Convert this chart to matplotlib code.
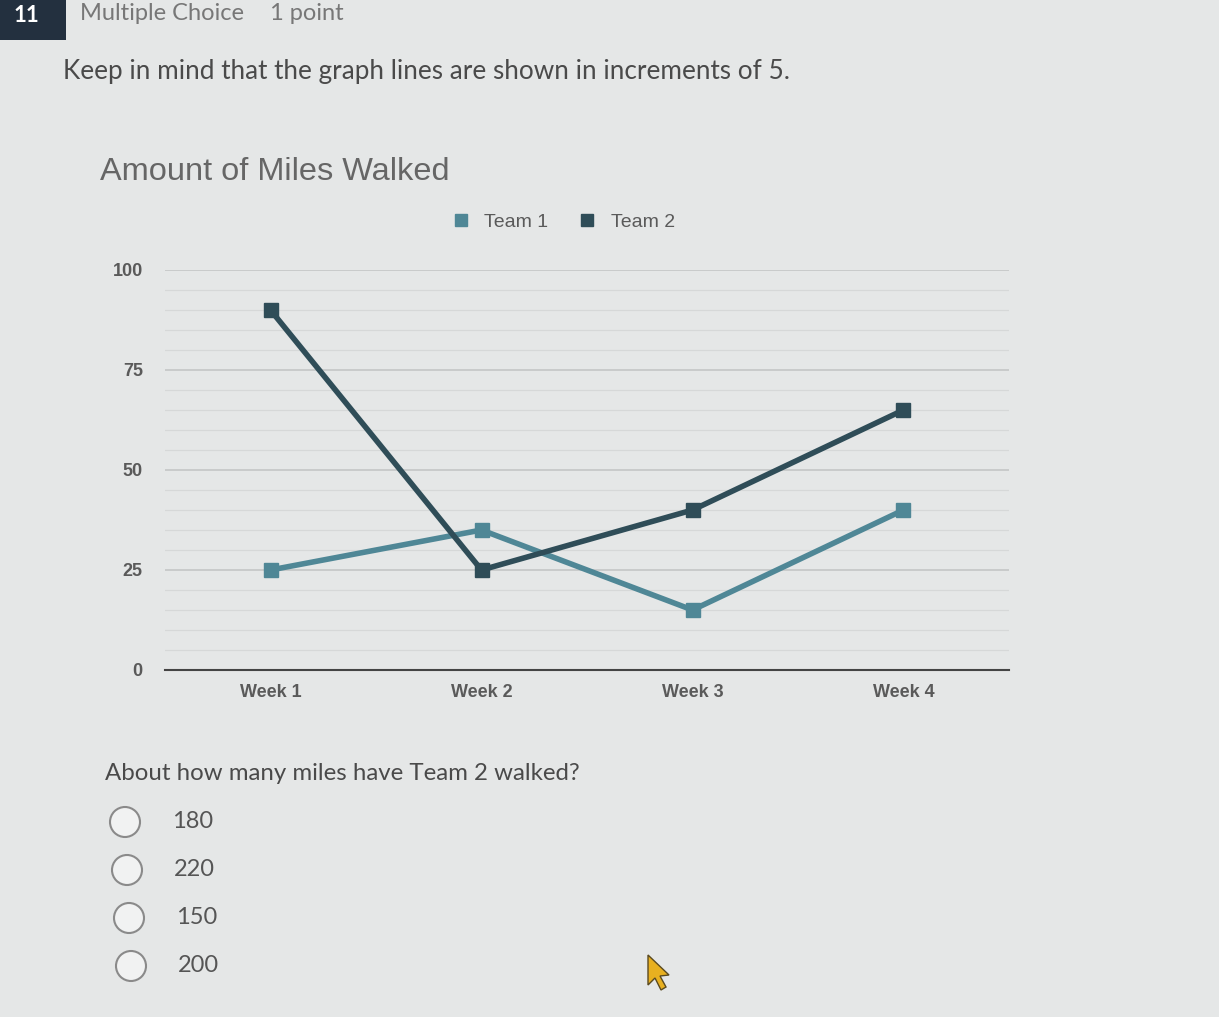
import matplotlib
matplotlib.use("Agg")
import matplotlib.pyplot as plt
from matplotlib.patches import Rectangle, Ellipse, Polygon

# data
weeks = ["Week 1", "Week 2", "Week 3", "Week 4"]
team1 = [25, 35, 15, 40]
team2 = [90, 25, 40, 65]
series_names = ["Team 1", "Team 2"]
major_ticks = [0, 25, 50, 75, 100]
minor_ticks = [v for v in range(0, 101, 5) if v % 25]
choices = ["180", "220", "150", "200"]

W, H = 1219, 1017
BG = "#e5e7e7"
C1 = "#4f8796"
C2 = "#2f4d58"
QUIZ_INK = "#4a4a4a"
CHART_INK = "#5a5a5a"


def fx(px):
    return px / W


def fy(py):
    return 1 - py / H


fig = plt.figure(figsize=(W / 100, H / 100), dpi=100)
fig.patch.set_facecolor(BG)

# quiz header
fig.patches.append(Rectangle((0, fy(40)), fx(66), 40 / H, transform=fig.transFigure,
                             facecolor="#23303f", edgecolor="none"))
fig.text(fx(26), fy(15), "11", color="white", fontsize=16, fontweight="bold",
         family="Lato", ha="center", va="center")
fig.text(fx(80), fy(14), "Multiple Choice", color="#777", fontsize=17, family="Lato",
         va="center")
fig.text(fx(270), fy(14), "1 point", color="#777", fontsize=17, family="Lato", va="center")
fig.text(fx(63), fy(71), "Keep in mind that the graph lines are shown in increments of 5.",
         color=QUIZ_INK, fontsize=18.8, family="Lato", va="center")

# chart
ax = fig.add_axes([fx(165), fy(670), 844 / W, 400 / H])
ax.set_facecolor(BG)
x = list(range(len(weeks)))
ax.plot(x, team1, color=C1, linewidth=4, marker="s", markersize=10, label=series_names[0],
        solid_joinstyle="miter")
ax.plot(x, team2, color=C2, linewidth=4, marker="s", markersize=10, label=series_names[1],
        solid_joinstyle="miter")
ax.set_xlim(-0.5, len(weeks) - 0.5)
ax.set_ylim(0, 100)
ax.set_yticks(major_ticks)
ax.set_yticks(minor_ticks, minor=True)
ax.grid(axis="y", which="major", color="#c4c6c6", linewidth=1.2)
ax.grid(axis="y", which="minor", color="#d6d8d8", linewidth=0.9)
ax.set_axisbelow(True)
ax.set_xticks(x, weeks)
for side in ("top", "right", "left"):
    ax.spines[side].set_visible(False)
ax.spines["bottom"].set_color("#444")
ax.spines["bottom"].set_linewidth(1.5)
ax.tick_params(axis="both", which="both", length=0)
ax.tick_params(axis="y", pad=16)
ax.tick_params(axis="x", pad=10)
for lab in ax.get_xticklabels() + ax.get_yticklabels():
    lab.set_family("Liberation Sans")
    lab.set_fontsize(13)
    lab.set_fontweight("bold")
    lab.set_color(CHART_INK)

fig.text(fx(100), fy(172), "Amount of Miles Walked", color="#666", fontsize=23.4,
         family="Liberation Sans", va="center")
leg = ax.legend(loc="center", bbox_to_anchor=(fx(564), fy(222)),
                bbox_transform=fig.transFigure, ncol=2, frameon=False,
                handlelength=0.8, handletextpad=0.8, columnspacing=1.6,
                prop={"family": "Liberation Sans", "size": 14})
for h in leg.legend_handles:
    h.set_linestyle("none")
    h.set_markersize(9)
for t in leg.get_texts():
    t.set_color(CHART_INK)

# question
fig.text(fx(105), fy(773), "About how many miles have Team 2 walked?", color=QUIZ_INK,
         fontsize=17.3, family="Lato", va="center")
for i, c in enumerate(choices):
    cy = 822 + 48 * i
    cx = 125 + 2 * i
    fig.patches.append(Ellipse((fx(cx), fy(cy)), 30 / W, 30 / H, transform=fig.transFigure,
                               facecolor="#f1f2f2", edgecolor="#8a8a8a", linewidth=1.5))
    fig.text(fx(172 + 2 * i), fy(cy), c, color="#555", fontsize=17, family="Lato",
             va="center")

# mouse pointer
pts = [(648, 955), (648, 985), (655, 978), (661, 990), (666, 987), (660, 976), (669, 975)]
fig.patches.append(Polygon([(fx(a), fy(b)) for a, b in pts], closed=True,
                           transform=fig.transFigure, facecolor="#e8b020",
                           edgecolor="#5a4a20", linewidth=1))

fig.savefig("out.png", dpi=100, facecolor=BG)
